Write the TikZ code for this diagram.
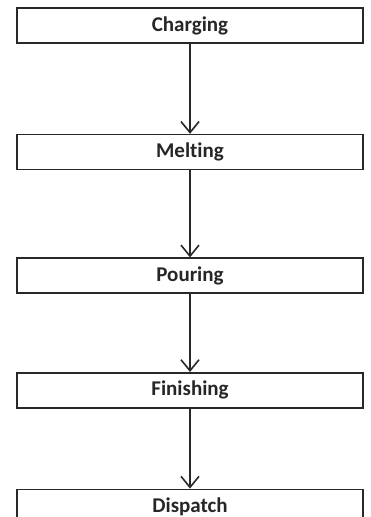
\documentclass[tikz,border=0pt]{standalone}
\usepackage{fontspec}
\setmainfont[Ligatures=NoCommon]{Carlito}
\usetikzlibrary{arrows.meta,positioning}
\definecolor{boxline}{RGB}{40,40,40}

\begin{document}
\begin{tikzpicture}[
  box/.style={draw=boxline, line width=1.6pt, minimum width=346pt, minimum height=35pt, inner sep=0pt, font=\fontsize{21}{25}\selectfont\bfseries, text=black!85},
  arr/.style={-{Straight Barb[length=11pt,width=18pt,line width=1.6pt]}, line width=1.6pt, draw=boxline}]
\useasboundingbox (0pt,0pt) rectangle (371pt,-517pt);
\node[box] (charge) at (190pt,-25.5pt) {Charging};
\node[box, below=90pt of charge] (melt) {Melting};
\node[box, below=87pt of melt] (pour) {Pouring};
\node[box, below=78pt of pour] (finish) {Finishing};
\node[box, below=80pt of finish] (dispatch) {Dispatch};
\draw[arr] (charge) -- (melt); \draw[arr] (melt) -- (pour);
\draw[arr] (pour) -- (finish); \draw[arr] (finish) -- (dispatch);
\end{tikzpicture}
\end{document}
